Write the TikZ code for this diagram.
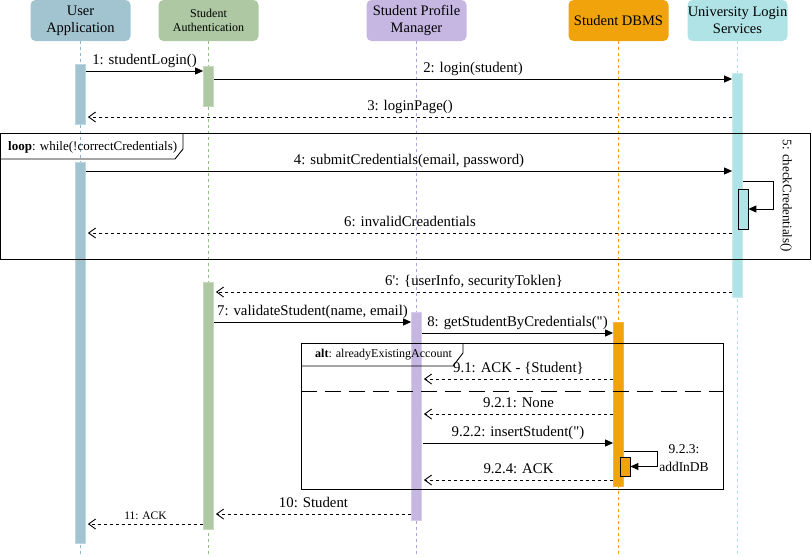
\documentclass[tikz,border=0pt]{standalone}
\usepackage{fontspec}
\setmainfont{Liberation Serif}[Ligatures=TeXOff]
\usetikzlibrary{arrows.meta}

\definecolor{cUser}{HTML}{A2C4D1}
\definecolor{cAuth}{HTML}{ADC8A2}
\definecolor{cProf}{HTML}{C6B7E2}
\definecolor{cDbms}{HTML}{F0A30A}
\definecolor{cUniv}{HTML}{B0E3E6}
\definecolor{cUserL}{HTML}{8FB6C6}
\definecolor{cAuthL}{HTML}{93BD85}
\definecolor{cProfL}{HTML}{B3A0D8}

\tikzset{
  head/.style={rounded corners=5pt, minimum width=100pt, minimum height=41pt,
    align=center, inner sep=0pt, font=\fontsize{14.5}{17}\selectfont},
  life/.style={dash pattern=on 3pt off 3pt, line width=0.8pt},
  actbar/.style={minimum width=10pt, inner sep=0pt, line width=0.8pt},
  selfbox/.style={draw=black, minimum width=10pt, inner sep=0pt, line width=0.8pt},
  call/.style={line width=0.9pt, -{Triangle[length=8pt,width=7pt]}},
  reply/.style={line width=0.9pt, dash pattern=on 3pt off 3pt,
    -{Straight Barb[length=7pt,width=10pt,line width=0.9pt]}},
  lbl/.style={font=\fontsize{14.8}{17}\selectfont, anchor=base, yshift=6.5pt, inner sep=0pt},
  framebox/.style={line width=0.9pt},
  frametag/.style={anchor=west, inner sep=0pt},
}

\begin{document}
\begin{tikzpicture}[x=1pt,y=-1pt]
\useasboundingbox (0,0) rectangle (812,557);

% lifeline heads
\node[head, fill=cUser] (hUser) at (80.5,20.5) {User\\Application};
\node[head, fill=cAuth, font=\fontsize{12}{14.5}\selectfont] (hAuth) at (208.5,20.5) {Student\\Authentication};
\node[head, fill=cProf] (hProf) at (416.5,20.5) {Student Profile\\Manager};
\node[head, fill=cDbms] (hDbms) at (618.5,20.5) {Student DBMS};
\node[head, fill=cUniv] (hUniv) at (737.5,20.5) {University Login\\Services};

% lifelines
\coordinate (bottom) at (0,557);
\draw[life, cUserL] (hUser.south) -- (hUser.south |- bottom);
\draw[life, cAuthL] (hAuth.south) -- (hAuth.south |- bottom);
\draw[life, cProfL] (hProf.south) -- (hProf.south |- bottom);
\draw[life, cDbms]  (hDbms.south) -- (hDbms.south |- bottom);
\draw[life, cUniv]  (hUniv.south) -- (hUniv.south |- bottom);

% activation bars
\node[actbar, fill=cUser, draw=cUser!70!white, minimum height=60pt]  (bU1) at (80.5,94) {};
\node[actbar, fill=cUser, draw=cUser!70!white, minimum height=381pt] (bU2) at (80.5,352.5) {};
\node[actbar, fill=cAuth, draw=cAuth!70!white, minimum height=40pt]  (bA1) at (208.5,86) {};
\node[actbar, fill=cAuth, draw=cAuth!70!white, minimum height=247pt] (bA2) at (208.5,405.5) {};
\node[actbar, fill=cUniv, draw=cUniv!70!white, minimum height=224pt] (bV)  at (737.5,185) {};
\node[selfbox, fill=cUniv, minimum height=40pt] (bVs) at (743,209) {};
\node[actbar, fill=cProf, draw=cProf!70!white, minimum height=208pt] (bP)  at (416.5,416) {};
\node[actbar, fill=cDbms, draw=cDbms!80!white, minimum height=164pt] (bD)  at (618.5,404) {};
\node[selfbox, fill=cDbms, minimum height=19pt] (bDs) at (625,466.5) {};

% combined fragments
\draw[framebox] (0.5,133) rectangle (810.5,259);
\draw[framebox] (0.5,159) -- (175,159) -- (183,149) -- (183,133);
\node[frametag, font=\fontsize{13}{15}\selectfont] (tLoop) at (8,147) {\textbf{loop}: while(!correctCredentials)};

\draw[framebox] (301,343) rectangle (723,489);
\draw[framebox] (301,366) -- (453,366) -- (463,353) -- (463,343);
\node[frametag, font=\fontsize{12}{14}\selectfont] (tAlt) at (315,355) {\textbf{alt}: alreadyExistingAccount};
\draw[line width=0.9pt, dash pattern=on 16pt off 8pt] (301,391) -- (723,391);

% message levels
\coordinate (y1) at (0,71);
\coordinate (y2) at (0,79);
\coordinate (y3) at (0,117);
\coordinate (y4) at (0,171);
\coordinate (y6) at (0,233);
\coordinate (y6b) at (0,292);
\coordinate (y7) at (0,322);
\coordinate (y8) at (0,333);
\coordinate (y91) at (0,379);
\coordinate (y921) at (0,414);
\coordinate (y922) at (0,443);
\coordinate (y924) at (0,480);
\coordinate (y10) at (0,514);
\coordinate (y11) at (0,524);
\coordinate (s5) at (773,181);
\coordinate (s923) at (657,451);

% messages
\draw[call]  (bU1.east |- y1) -- node[lbl] {1: studentLogin()} (bA1.west |- y1);
\draw[call]  (bA1.east |- y2) -- node[lbl] {2: login(student)} (bV.west |- y2);
\draw[reply] (bV.west |- y3) -- node[lbl] {3: loginPage()} ([xshift=2pt]bU1.east |- y3);
\draw[call]  (bU2.east |- y4) -- node[lbl] {4: submitCredentials(email, password)} (bV.west |- y4);
\draw[call]  (bV.east |- s5) -- (s5) |- (bVs.east);
\node[font=\fontsize{13}{15}\selectfont, rotate=-90] (l5) at (786,196) {5: checkCredentials()};
\draw[reply] (bV.west |- y6) -- node[lbl] {6: invalidCreadentials} ([xshift=2pt]bU2.east |- y6);
\draw[reply] (bV.west |- y6b) -- node[lbl] {6': \{userInfo, securityToklen\}} ([xshift=2pt]bA2.east |- y6b);
\draw[call]  (bA2.east |- y7) -- node[lbl] {7: validateStudent(name, email)} (bP.west |- y7);
\draw[call]  (bP.east |- y8) -- node[lbl] {8: getStudentByCredentials(")} (bD.west |- y8);
\draw[reply] (bD.west |- y91) -- node[lbl] {9.1: ACK - \{Student\}} ([xshift=2pt]bP.east |- y91);
\draw[reply] (bD.west |- y921) -- node[lbl] {9.2.1: None} ([xshift=2pt]bP.east |- y921);
\draw[call]  ([xshift=1pt]bP.east |- y922) -- node[lbl] {9.2.2: insertStudent(")} (bD.west |- y922);
\draw[call]  (bD.east |- s923) -- (s923) |- (bDs.east);
\node[font=\fontsize{13.5}{17.5}\selectfont, align=center] (l923) at (684,458) {9.2.3:\\addInDB};
\draw[reply] (bD.west |- y924) -- node[lbl] {9.2.4: ACK} ([xshift=2pt]bP.east |- y924);
\draw[reply] (bP.west |- y10) -- node[lbl] {10: Student} ([xshift=2pt]bA2.east |- y10);
\draw[reply] (bA2.west |- y11) -- node[lbl, font=\fontsize{11.5}{13}\selectfont, yshift=-1.5pt] {11: ACK} ([xshift=2pt]bU2.east |- y11);
\end{tikzpicture}
\end{document}
